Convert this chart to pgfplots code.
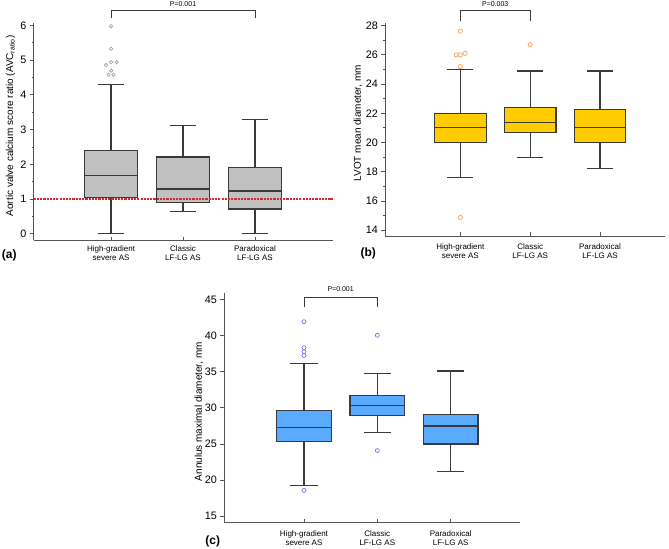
\documentclass[border=0pt]{standalone}
\usepackage{fontspec}
\setmainfont{Liberation Sans}
\usepackage{pgfplots}
\pgfplotsset{compat=1.18}
\usepgfplotslibrary{statistics}

\definecolor{boxgray}{HTML}{C0C0C0}
\definecolor{gold}{HTML}{FFCC00}
\definecolor{skyb}{HTML}{5AABFF}
\definecolor{lineg}{HTML}{3A3A3A}
\definecolor{axg}{HTML}{555555}
\definecolor{outgray}{HTML}{999999}
\definecolor{outorange}{HTML}{F5A25D}
\definecolor{outblue}{HTML}{7373F5}
\definecolor{refline}{rgb}{0.85,0.15,0.15}

\pgfplotsset{
  mystyle/.style={
    scale only axis,
    axis x line*=bottom, axis y line*=left,
    axis line style={axg, line width=0.9bp},
    xtick={0,1,2}, xtick align=inside, ytick align=outside,
    major tick length=3.7bp, minor tick length=2bp,
    every tick/.style={axg, line width=0.8bp},
    xticklabels={{High-gradient\\severe AS},{Classic\\LF-LG AS},{Paradoxical\\LF-LG AS}},
    xticklabel style={align=center, font=\fontsize{8bp}{9.3bp}\selectfont},
    yticklabel style={font=\fontsize{10.8bp}{12bp}\selectfont},
    /pgf/number format/assume math mode=true,
    label style={font=\fontsize{10bp}{12bp}\selectfont},
    clip=false,
    boxplot/draw direction=y,
  },
  bx/.style={draw=lineg, line width=1.2bp, line join=miter},
}

\begin{document}
\begin{tikzpicture}
\path[use as bounding box] (0,0) rectangle (669bp,549bp);

% ---------- (a)
\begin{axis}[mystyle,
  at={(33.7bp,308.7bp)}, anchor=south west,
  width=299.3bp, height=217bp,
  xmin=-1.074, xmax=3.083, ymin=-0.19, ymax=6.063,
  ytick={0,1,2,3,4,5,6}, minor y tick num=1,
  xticklabel style={yshift=-2bp},
  ylabel={Aortic valve calcium score ratio (AVC\textsubscript{ratio})},
  every axis y label/.style={at={(axis description cs:-0.0775,0.527)}, rotate=90, anchor=center},
]
\addplot[bx, fill=boxgray, boxplot prepared={draw position=0, lower whisker=0, lower quartile=1.05, median=1.68, upper quartile=2.40, upper whisker=4.31, box extend=0.74, whisker extend=0.36}] coordinates {};
\addplot[bx, fill=boxgray, boxplot prepared={draw position=1, lower whisker=0.63, lower quartile=0.90, median=1.29, upper quartile=2.21, upper whisker=3.12, box extend=0.74, whisker extend=0.36}] coordinates {};
\addplot[bx, fill=boxgray, boxplot prepared={draw position=2, lower whisker=0.01, lower quartile=0.71, median=1.23, upper quartile=1.91, upper whisker=3.29, box extend=0.74, whisker extend=0.36}] coordinates {};
\addplot[only marks, mark=o, mark size=1.7bp, draw=outgray, mark options={solid, draw=outgray, line width=0.6bp}] coordinates {
 (0,5.98) (0,5.33) (-0.07,4.86) (0,4.94) (0.075,4.94) (0,4.70) (-0.035,4.58) (0.035,4.58)};
\addplot[only marks, mark=-, mark size=1.1bp, mark options={draw=refline, line width=1.1bp}] coordinates {
 (-1.060,1) (-1.015,1) (-0.970,1) (-0.925,1) (-0.880,1) (-0.835,1) (-0.790,1) (-0.745,1) (-0.700,1) (-0.655,1)
 (-0.610,1) (-0.565,1) (-0.520,1) (-0.475,1) (-0.430,1) (-0.385,1) (-0.340,1) (-0.295,1) (-0.250,1) (-0.205,1)
 (-0.160,1) (-0.115,1) (-0.070,1) (-0.025,1) (0.020,1) (0.065,1) (0.110,1) (0.155,1) (0.200,1) (0.245,1)
 (0.290,1) (0.335,1) (0.380,1) (0.425,1) (0.470,1) (0.515,1) (0.560,1) (0.605,1) (0.650,1) (0.695,1)
 (0.740,1) (0.785,1) (0.830,1) (0.875,1) (0.920,1) (0.965,1) (1.010,1) (1.055,1) (1.100,1) (1.145,1)
 (1.190,1) (1.235,1) (1.280,1) (1.325,1) (1.370,1) (1.415,1) (1.460,1) (1.505,1) (1.550,1) (1.595,1)
 (1.640,1) (1.685,1) (1.730,1) (1.775,1) (1.820,1) (1.865,1) (1.910,1) (1.955,1) (2.000,1) (2.045,1)
 (2.090,1) (2.135,1) (2.180,1) (2.225,1) (2.270,1) (2.315,1) (2.360,1) (2.405,1) (2.450,1) (2.495,1)
 (2.540,1) (2.585,1) (2.630,1) (2.675,1) (2.720,1) (2.765,1) (2.810,1) (2.855,1) (2.900,1) (2.945,1)
 (2.990,1) (3.035,1) (3.065,1)};
\draw[lineg, line width=0.8bp] (axis cs:0,6.216) -- (axis cs:0,6.447) -- (axis cs:2,6.447) -- (axis cs:2,6.216);
\node[font=\fontsize{7bp}{8bp}\selectfont, inner sep=0] at (axis cs:1,6.62) {P=0.001};
\end{axis}

% ---------- (b)
\begin{axis}[mystyle,
  at={(385bp,313bp)}, anchor=south west,
  width=280bp, height=212.7bp,
  xmin=-1.078, xmax=2.93, ymin=13.6, ymax=28.16,
  ytick={14,16,18,20,22,24,26,28}, minor y tick num=1,
  xticklabel style={yshift=-4bp},
  ylabel={LVOT mean diameter, mm},
  every axis y label/.style={at={(axis description cs:-0.0964,0.53)}, rotate=90, anchor=center},
]
\addplot[bx, fill=gold, boxplot prepared={draw position=0, lower whisker=17.60, lower quartile=20.0, median=21.0, upper quartile=21.96, upper whisker=25.02, box extend=0.74, whisker extend=0.37}] coordinates {};
\addplot[bx, fill=gold, boxplot prepared={draw position=1, lower whisker=19.0, lower quartile=20.68, median=21.39, upper quartile=22.4, upper whisker=24.9, box extend=0.74, whisker extend=0.37}] coordinates {};
\addplot[bx, fill=gold, boxplot prepared={draw position=2, lower whisker=18.2, lower quartile=20.0, median=21.0, upper quartile=22.26, upper whisker=24.9, box extend=0.74, whisker extend=0.37}] coordinates {};
\addplot[only marks, mark=o, mark size=2.1bp, draw=outorange, color=outorange, mark options={draw=outorange, line width=0.7bp}] coordinates {
 (0,27.62) (-0.06,26.0) (0,26.0) (0.07,26.1) (0,25.2) (0,14.87) (1,26.7)};
\draw[lineg, line width=0.8bp] (axis cs:0,28.34) -- (axis cs:0,29.075) -- (axis cs:1,29.075) -- (axis cs:1,28.34);
\node[font=\fontsize{7bp}{8bp}\selectfont, inner sep=0] at (axis cs:0.5,29.49) {P=0.003};
\end{axis}

% ---------- (c)
\begin{axis}[mystyle,
  at={(224bp,26.7bp)}, anchor=south west,
  width=296bp, height=229bp,
  xmin=-1.09, xmax=2.945, ymin=14.14, ymax=45.87,
  ytick={15,20,25,30,35,40,45},
  xticklabel style={yshift=-4.5bp},
  ylabel={Annulus maximal diameter, mm},
  every axis y label/.style={at={(axis description cs:-0.0845,0.483)}, rotate=90, anchor=center},
]
\addplot[bx, fill=skyb, boxplot prepared={draw position=0, lower whisker=19.21, lower quartile=25.28, median=27.31, upper quartile=29.68, upper whisker=36.19, box extend=0.745, whisker extend=0.37}] coordinates {};
\addplot[bx, fill=skyb, boxplot prepared={draw position=1, lower whisker=26.57, lower quartile=28.89, median=30.28, upper quartile=31.71, upper whisker=34.72, box extend=0.745, whisker extend=0.37}] coordinates {};
\addplot[bx, fill=skyb, boxplot prepared={draw position=2, lower whisker=21.2, lower quartile=25.0, median=27.49, upper quartile=29.12, upper whisker=35.09, box extend=0.745, whisker extend=0.37}] coordinates {};
\addplot[only marks, mark=o, mark size=2bp, draw=outblue, color=outblue, mark options={draw=outblue, line width=0.7bp}] coordinates {
 (0,41.94) (0,38.34) (0,37.79) (0,37.25) (0,18.56) (1,40.05) (1,24.08)};
\draw[lineg, line width=0.8bp] (axis cs:0,44.02) -- (axis cs:0,45.32) -- (axis cs:1,45.32) -- (axis cs:1,44.02);
\node[font=\fontsize{7bp}{8bp}\selectfont, inner sep=0] at (axis cs:0.5,46.47) {P=0.001};
\end{axis}

\node[font=\fontsize{12bp}{14bp}\selectfont\bfseries] at (9.2bp,293.2bp) {(a)};
\node[font=\fontsize{12bp}{14bp}\selectfont\bfseries] at (368.3bp,295.7bp) {(b)};
\node[font=\fontsize{12bp}{14bp}\selectfont\bfseries] at (212.7bp,7.3bp) {(c)};
\end{tikzpicture}
\end{document}
